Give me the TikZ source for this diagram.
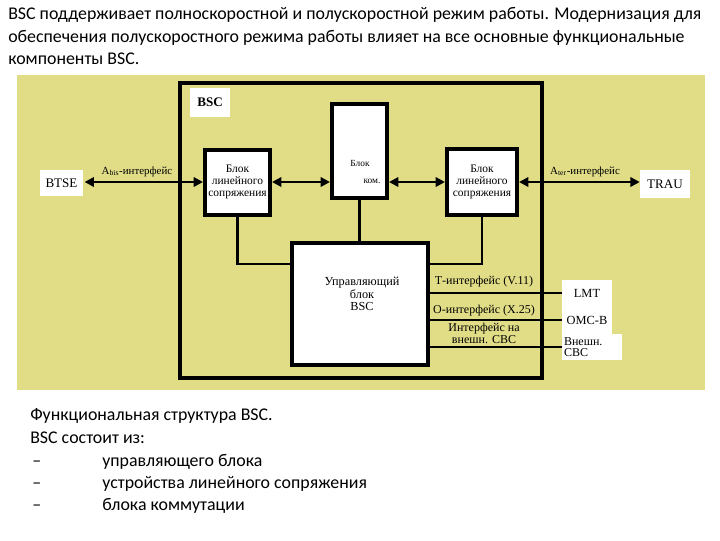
\documentclass[tikz,border=0pt]{standalone}
\usepackage{fontspec}
\setmainfont{Liberation Serif}
\newfontfamily\calfont{Carlito}
\usetikzlibrary{arrows.meta}
\definecolor{panel}{RGB}{225,221,135}
\tikzset{
  blk/.style={draw=black, line width=3pt, fill=white, inner sep=1pt, align=center, font=\fontsize{8.6}{8.8}\selectfont},
  lbl/.style={fill=white, inner sep=1pt, align=center, font=\fontsize{9.8}{10}\selectfont},
  iface/.style={inner sep=0pt, align=center, font=\fontsize{9}{7.5}\selectfont},
  dbl/.style={line width=2.2pt, {Triangle[length=7pt,width=7pt]}-{Triangle[length=7pt,width=7pt]}},
  wire/.style={line width=1.6pt},
  para/.style={anchor=base west, inner sep=0pt, font=\calfont\fontsize{13.4}{15}\selectfont}
}
\begin{document}
\begin{tikzpicture}[x=0.75pt,y=-0.75pt]
\useasboundingbox (0,0) rectangle (720,540);
% panel
\fill[panel] (17,75) rectangle (705,390);
% top text
\node[para] (t1) at (8,19) {BSC поддерживает полноскоростной и полускоростной режим работы. Модернизация для};
\node[para] (t2) at (8,42) {обеспечения полускоростного режима работы влияет на все основные функциональные};
\node[para] (t3) at (8,64) {компоненты BSC.};
% outer BSC box
\node[draw=black, line width=3pt, minimum width=271.5pt, minimum height=221.25pt, inner sep=0pt] (outer) at (361,230.5) {};
\node[lbl, minimum width=30pt, minimum height=21.75pt, font=\bfseries\fontsize{9.8}{10}\selectfont] (bsclbl) at (210,102.5) {BSC};
% blocks
\node[blk, minimum width=48.75pt, minimum height=48.75pt] (lb) at (237.5,182) {Блок\\линейного\\сопряжения};
\node[blk, minimum width=52.5pt, minimum height=49.5pt] (rb) at (482,182) {Блок\\линейного\\сопряжения};
\node[blk, minimum width=41.25pt, minimum height=70.5pt] (sw) at (359.5,151) {};
\node[font=\fontsize{7}{7}\selectfont, inner sep=0pt] (swt1) at (360,163) {Блок};
\node[font=\fontsize{7}{7}\selectfont, inner sep=0pt] (swt2) at (372,181) {ком.};
\node[blk, minimum width=102pt, minimum height=91.5pt] (ctrl) at (360,304) {};
\node[inner sep=0pt, align=center, font=\fontsize{9.2}{9.2}\selectfont] (ctrlt) at (362,294) {Управляющий\\блок\\BSC};
% external
\node[lbl, minimum width=32pt, minimum height=19.5pt] (btse) at (61.5,183) {BTSE};
\node[lbl, minimum width=37.5pt, minimum height=21pt] (trau) at (665,184) {TRAU};
\node[fill=white, minimum width=37.5pt, minimum height=19.5pt, inner sep=0pt, font=\fontsize{9.3}{9}\selectfont] (lmt) at (587,293) {LMT};
\node[fill=white, minimum width=37.5pt, minimum height=21pt, inner sep=0pt, font=\fontsize{9.3}{9}\selectfont] (omc) at (587,320) {OMC-B};
\node[fill=white, minimum width=45pt, minimum height=19.5pt, inner sep=1pt, align=left, text width=42pt, font=\fontsize{9}{8}\selectfont] (ext) at (592,347) {Внешн.\\CBC};
% arrows
\path (btse.east) ++(1.5,-1) coordinate (bt);
\draw[dbl] (bt) -- (bt -| lb.west);
\draw[dbl] (lb.east) -- (lb.east -| sw.west);
\draw[dbl] (rb.west -| sw.east) -- (rb.west);
\draw[dbl] (rb.east) -- (trau.west |- rb.east);
\node[iface, anchor=base, font=\fontsize{8.2}{8}\selectfont] (abis) at (137,174) {А\textsubscript{bis}-интерфейс};
\node[iface, anchor=base, font=\fontsize{8.2}{8}\selectfont] (ater) at (585,174) {А\textsubscript{ter}-интерфейс};
% wires
\coordinate (jl) at (292,264);
\draw[wire] (lb.south) |- (ctrl.west |- jl);
\draw[wire] (rb.south) |- (ctrl.east |- jl);
\draw[wire] (sw.south) -- (sw.south |- ctrl.north);
\draw[wire] (ctrl.east |- lmt) -- (lmt.west);
\draw[wire] (ctrl.east |- omc) -- (omc.west);
\draw[wire] (ctrl.east |- ext) -- (ext.west);
\node[iface, anchor=base] (ti) at (484,284) {Т-интерфейс (V.11)};
\node[iface, anchor=base] (oi) at (484,313) {О-интерфейс (X.25)};
\node[iface] (ei) at (484,333) {Интерфейс на\\внешн. CBC};
% bottom text
\node[para] (b1) at (30,420) {Функциональная структура BSC.};
\node[para] (b2) at (30,443) {BSC состоит из:};
\node[para] (d1) at (32,466) {–};
\node[para] (i1) at (102,466) {управляющего блока};
\node[para] (d2) at (32,488) {–};
\node[para] (i2) at (102,488) {устройства линейного сопряжения};
\node[para] (d3) at (32,510) {–};
\node[para] (i3) at (102,510) {блока коммутации};
\end{tikzpicture}
\end{document}
